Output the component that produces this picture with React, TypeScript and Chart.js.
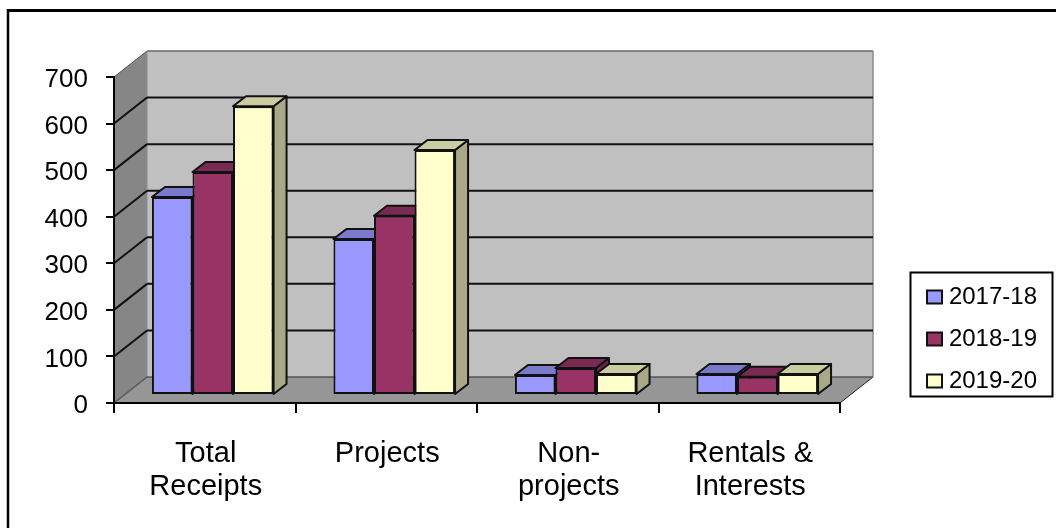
import React, { useEffect, useRef } from "react";
import { Chart, registerables } from "chart.js";

Chart.register(...registerables);

const categories = [["Total", "Receipts"], ["Projects"], ["Non-", "projects"], ["Rentals &", "Interests"]];
const seriesNames = ["2017-18", "2018-19", "2019-20"];
const values201718 = [425, 335, 43, 45];
const values201819 = [479, 385, 58, 39];
const values201920 = [620, 526, 45, 45];
const yTicks = { min: 0, max: 700, step: 100 };

const FONT = "'Liberation Sans', Arial, sans-serif";
const WALL = { dx: 33, dy: -26 };
const BAR_PLANE = { dx: 8, dy: -8 };
const BAR_DEPTH = { dx: 13, dy: -10 };

const colours = [
  { front: "#9999FF", top: "#7A7ACC", side: "#6B6BB3" },
  { front: "#993366", top: "#7A2952", side: "#6B2447" },
  { front: "#FFFFCC", top: "#CCCCA3", side: "#A9A988" },
];

function poly(ctx: CanvasRenderingContext2D, pts: number[][], fill: string, stroke?: string, lw = 1) {
  ctx.beginPath();
  pts.forEach((p, i) => (i ? ctx.lineTo(p[0], p[1]) : ctx.moveTo(p[0], p[1])));
  ctx.closePath();
  ctx.fillStyle = fill;
  ctx.fill();
  if (stroke) {
    ctx.strokeStyle = stroke;
    ctx.lineWidth = lw;
    ctx.lineJoin = "round";
    ctx.stroke();
  }
}

function line(ctx: CanvasRenderingContext2D, x1: number, y1: number, x2: number, y2: number, color: string, lw: number) {
  ctx.beginPath();
  ctx.moveTo(x1, y1);
  ctx.lineTo(x2, y2);
  ctx.strokeStyle = color;
  ctx.lineWidth = lw;
  ctx.stroke();
}

const scene3d = {
  id: "scene3d",
  afterLayout(chart: any) {
    const lg = chart.legend;
    if (!lg) return;
    lg.left = 909;
    lg.right = 1037;
    lg.top = 267;
    lg.bottom = 600;
  },
  beforeDraw(chart: any) {
    const { ctx, chartArea: a, scales } = chart;
    const { dx, dy } = WALL;
    ctx.save();
    ctx.fillStyle = "#FFFFFF";
    ctx.fillRect(0, 0, chart.width, chart.height);

    // outer frame: only the top and left edges fall inside the picture
    line(ctx, 8, 10.5, chart.width, 10.5, "#000000", 3);
    line(ctx, 8, 9, 8, chart.height, "#000000", 2.5);

    // legend frame
    ctx.strokeStyle = "#000000";
    ctx.lineWidth = 2;
    ctx.strokeRect(910.5, 272.5, 142, 124);

    // walls and floor
    poly(ctx, [[a.left + dx, a.top + dy], [a.right + dx, a.top + dy], [a.right + dx, a.bottom + dy], [a.left + dx, a.bottom + dy]], "#C0C0C0");
    poly(ctx, [[a.left, a.top], [a.left + dx, a.top + dy], [a.left + dx, a.bottom + dy], [a.left, a.bottom]], "#868686");
    poly(ctx, [[a.left, a.bottom], [a.right, a.bottom], [a.right + dx, a.bottom + dy], [a.left + dx, a.bottom + dy]], "#969696");

    line(ctx, a.left, a.top, a.left + dx, a.top + dy, "#555555", 1);
    line(ctx, a.left + dx, a.top + dy, a.right + dx, a.top + dy, "#666666", 1.5);
    line(ctx, a.right + dx, a.top + dy, a.right + dx, a.bottom + dy, "#8C8C8C", 1.5);
    line(ctx, a.left + dx, a.top + dy, a.left + dx, a.bottom + dy, "#8C8C8C", 1);
    line(ctx, a.right, a.bottom, a.right + dx, a.bottom + dy, "#222222", 1);

    // gridlines wrapping side wall and back wall
    scales.y.ticks.forEach((t: any) => {
      const y = scales.y.getPixelForValue(t.value);
      if (t.value === yTicks.max) return;
      const floor = t.value === yTicks.min;
      const c = floor ? "#555555" : "#111111";
      const w = floor ? 1.5 : 2;
      line(ctx, a.left + dx, y + dy, a.right + dx, y + dy, c, w);
      line(ctx, a.left, y, a.left + dx, y + dy, c, w);
    });
    ctx.restore();
  },
  beforeDatasetsDraw(chart: any) {
    const { ctx } = chart;
    const d = BAR_DEPTH;
    const p = BAR_PLANE;
    chart.data.datasets.forEach((_: any, di: number) => {
      const meta = chart.getDatasetMeta(di);
      const c = colours[di];
      meta.data.forEach((bar: any) => {
        const w = bar.width;
        const l = bar.x - w / 2 + p.dx;
        const r = bar.x + w / 2 + p.dx;
        const t = bar.y + p.dy;
        const b = bar.base + p.dy;
        ctx.save();
        poly(ctx, [[r, t], [r + d.dx, t + d.dy], [r + d.dx, b + d.dy], [r, b]], c.side, "#111111", 2);
        poly(ctx, [[l, t], [l + d.dx, t + d.dy], [r + d.dx, t + d.dy], [r, t]], c.top, "#111111", 2);
        ctx.translate(p.dx, p.dy);
        bar.draw(ctx);
        ctx.restore();
      });
    });
    return false;
  },
};

export default function App() {
  const ref = useRef<HTMLCanvasElement>(null);
  useEffect(() => {
    const chart = new Chart(ref.current as HTMLCanvasElement, {
      type: "bar",
      plugins: [scene3d],
      data: {
        labels: categories as any,
        datasets: [values201718, values201819, values201920].map((data, i) => ({
          label: seriesNames[i],
          data,
          backgroundColor: colours[i].front,
          borderColor: "#111111",
          borderWidth: 2,
          borderSkipped: false,
          barPercentage: 1,
          categoryPercentage: 0.67,
        })),
      },
      options: {
        responsive: false,
        animation: false,
        layout: { padding: { left: 0, right: 216, top: 77, bottom: 0 } },
        plugins: {
          title: { display: false },
          tooltip: { enabled: false },
          legend: {
            position: "chartArea" as any,
            align: "start",
            labels: {
              boxWidth: 15,
              boxHeight: 13,
              padding: 18,
              textAlign: "right",
              color: "#000000",
              font: { family: FONT, size: 24 },
            },
          },
        },
        scales: {
          x: {
            afterFit: (s: any) => { s.height = 125; },
            grid: { drawOnChartArea: false, drawTicks: true, tickLength: 10, color: "#000000", lineWidth: 2 },
            border: { display: true, color: "#000000", width: 2 },
            ticks: {
              color: "#000000",
              padding: 24,
              labelOffset: 1,
              maxRotation: 0,
              autoSkip: false,
              font: { family: FONT, size: 29, lineHeight: 1.14 },
            },
          },
          y: {
            min: yTicks.min,
            max: yTicks.max,
            afterFit: (s: any) => { s.width = 114; },
            grid: { drawOnChartArea: false, drawTicks: true, tickLength: 8, color: "#000000", lineWidth: 2 },
            border: { display: true, color: "#000000", width: 2 },
            ticks: {
              stepSize: yTicks.step,
              color: "#000000",
              padding: 18,
              labelOffset: 3,
              font: { family: FONT, size: 26 },
            },
          },
        },
      },
    });
    return () => chart.destroy();
  }, []);
  return (
    <div style={{ position: "absolute", left: 0, top: 0, width: 1056, height: 528 }}>
      <canvas ref={ref} width={1056} height={528} style={{ display: "block" }} />
    </div>
  );
}
